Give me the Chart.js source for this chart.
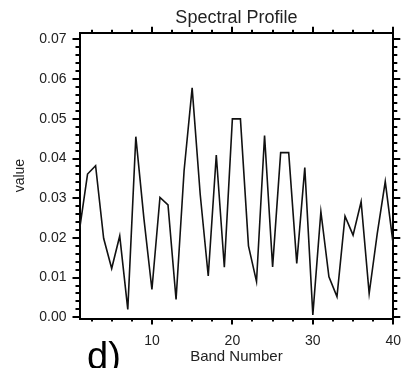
<!DOCTYPE html>
<html>
<head>
<meta charset="utf-8">
<title>Spectral Profile</title>
<script src="https://cdn.jsdelivr.net/npm/chart.js@4"></script>
<style>
  html, body { margin: 0; padding: 0; background: #fff; overflow: hidden; }
  #wrap { position: relative; width: 408px; height: 368px; }
  #panelTag {
    position: absolute; left: 87px; top: 337px;
    font: 38px 'Liberation Sans', Arial, sans-serif; color: #000;
    line-height: 1;
  }
  #edgeMask { position: absolute; left: 401px; top: 0; width: 7px; height: 368px; background: #fff; }
</style>
</head>
<body>
<div id="wrap">
  <canvas id="profileChart" width="408" height="368"></canvas>
  <div id="panelTag">d)</div>
  <div id="edgeMask"></div>
</div>
<script>
// band numbers 1..40 and the value read for each band
const BANDS = [1, 2, 3, 4, 5, 6, 7, 8, 9, 10,
  11, 12, 13, 14, 15, 16, 17, 18, 19, 20,
  21, 22, 23, 24, 25, 26, 27, 28, 29, 30,
  31, 32, 33, 34, 35, 36, 37, 38, 39, 40];
const VALUES = [0.0220, 0.0361, 0.0382, 0.0199, 0.0123, 0.0205, 0.0020, 0.0455, 0.0250, 0.0070,
  0.0302, 0.0283, 0.0045, 0.0370, 0.0578, 0.0310, 0.0104, 0.0409, 0.0126, 0.0500,
  0.0500, 0.0180, 0.0090, 0.0458, 0.0127, 0.0415, 0.0415, 0.0136, 0.0377, 0.0006,
  0.0266, 0.0102, 0.0052, 0.0255, 0.0207, 0.0291, 0.0060, 0.0210, 0.0342, 0.0182];

const X_TICKS = [10, 20, 30, 40];
const Y_TICKS = [0.00, 0.01, 0.02, 0.03, 0.04, 0.05, 0.06, 0.07];
const X_MINOR_STEP = 2.5;
const Y_MINOR_STEP = 0.002;

const FONT = "'Liberation Sans', Arial, sans-serif";
const INK = '#222';

// IDL style tick marks, outward on all four sides
const tickMarks = {
  id: 'tickMarks',
  afterDraw(chart) {
    const { ctx, chartArea: a, scales } = chart;
    const xs = scales.x, ys = scales.y;
    ctx.save();
    ctx.strokeStyle = '#000';
    ctx.lineWidth = 2;
    ctx.beginPath();
    for (let v = X_MINOR_STEP; v <= 40.001; v += X_MINOR_STEP) {
      const px = Math.round(xs.getPixelForValue(v));
      const len = Math.abs(v % 10) < 0.01 ? 6 : 3;
      ctx.moveTo(px, a.bottom); ctx.lineTo(px, a.bottom + len);
      ctx.moveTo(px, a.top); ctx.lineTo(px, a.top - len);
    }
    for (let i = 0; i <= 35; i++) {
      const v = i * Y_MINOR_STEP;
      const py = Math.round(ys.getPixelForValue(v));
      const len = i % 5 === 0 ? 7 : 4;
      ctx.moveTo(a.left, py); ctx.lineTo(a.left - len, py);
      ctx.moveTo(a.right, py); ctx.lineTo(a.right + len, py);
    }
    ctx.stroke();
    ctx.restore();
  }
};

// fixed box sizes so the plot frame lands where the reference has it
function fixBox(size, horizontal) {
  return s => {
    if (horizontal) s.height = size; else s.width = size;
    s.paddingLeft = s.paddingRight = s.paddingTop = s.paddingBottom = 0;
  };
}

const xRange = { min: 1, max: 40 };
const yRange = { min: -0.0003, max: 0.0717 };
const border = { display: true, color: '#000', width: 2 };

new Chart(document.getElementById('profileChart'), {
  type: 'line',
  data: {
    datasets: [{
      data: BANDS.map((b, i) => ({ x: b, y: VALUES[i] })),
      borderColor: '#111',
      borderWidth: 1.6,
      pointRadius: 0,
      tension: 0,
      fill: false
    }]
  },
  options: {
    responsive: false,
    animation: false,
    events: [],
    layout: { padding: 0 },
    plugins: { legend: { display: false }, tooltip: { enabled: false }, title: { display: false } },
    scales: {
      x: {
        type: 'linear', position: 'bottom', ...xRange,
        afterBuildTicks: s => { s.ticks = X_TICKS.map(v => ({ value: v })); },
        afterFit: fixBox(49.5, true),
        grid: { display: false, drawTicks: false },
        border,
        ticks: { color: INK, font: { family: FONT, size: 14 }, padding: 14, maxRotation: 0 },
        title: { display: true, text: 'Band Number', color: INK, font: { family: FONT, size: 15 }, padding: { top: 0, bottom: 2 } }
      },
      x2: {
        type: 'linear', position: 'top', ...xRange,
        afterFit: fixBox(32.7, true),
        grid: { display: false, drawTicks: false },
        border,
        ticks: { display: false },
        title: { display: true, text: 'Spectral Profile', color: INK, font: { family: FONT, size: 18 }, padding: { top: 7, bottom: 0 } }
      },
      y: {
        type: 'linear', position: 'left', ...yRange,
        afterBuildTicks: s => { s.ticks = Y_TICKS.map(v => ({ value: v })); },
        afterFit: fixBox(79.5, false),
        grid: { display: false, drawTicks: false },
        border,
        ticks: { color: INK, font: { family: FONT, size: 14 }, padding: 13, callback: v => v.toFixed(2) },
        title: { display: true, text: 'value', color: INK, font: { family: FONT, size: 14 }, padding: { top: 12, bottom: 0 } }
      },
      y2: {
        type: 'linear', position: 'right', ...yRange,
        afterFit: fixBox(14.7, false),
        grid: { display: false, drawTicks: false },
        border,
        ticks: { display: false }
      }
    }
  },
  plugins: [tickMarks]
});
</script>
</body>
</html>
